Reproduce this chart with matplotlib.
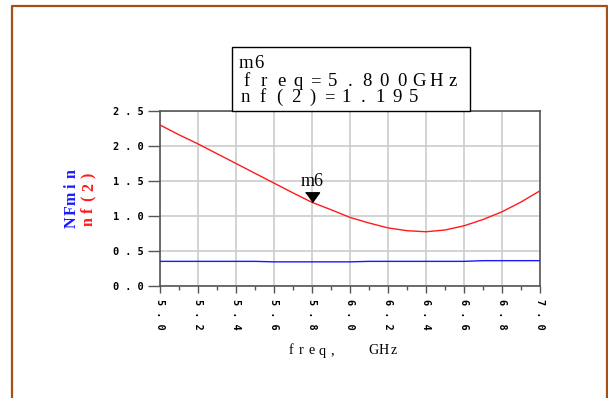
import matplotlib.pyplot as plt
from matplotlib.patches import Rectangle
from matplotlib.lines import Line2D

# data
freq = [5.0, 5.1, 5.2, 5.3, 5.4, 5.5, 5.6, 5.7, 5.8, 5.9, 6.0,
        6.1, 6.2, 6.3, 6.4, 6.5, 6.6, 6.7, 6.8, 6.9, 7.0]
nf2 = [2.30, 2.16, 2.03, 1.89, 1.75, 1.61, 1.47, 1.33, 1.195, 1.09, 0.98,
       0.90, 0.83, 0.79, 0.775, 0.80, 0.86, 0.95, 1.06, 1.20, 1.36]
nfmin = [0.352, 0.352, 0.352, 0.352, 0.352, 0.352, 0.345, 0.345, 0.345, 0.345, 0.345,
         0.352, 0.352, 0.352, 0.352, 0.352, 0.352, 0.362, 0.362, 0.362, 0.362]
marker_name = 'm6'
marker_freq = 5.8
marker_nf = 1.195
xticks = [5.0, 5.2, 5.4, 5.6, 5.8, 6.0, 6.2, 6.4, 6.6, 6.8, 7.0]
yticks = [0.0, 0.5, 1.0, 1.5, 2.0, 2.5]

W, H = 608, 398
fig = plt.figure(figsize=(W / 100, H / 100), dpi=100)


def px(x, y):
    return x / W, 1 - y / H


def spaced_text(x0, y0, s, pitch, vertical=False, **kw):
    # ADS-style letter spaced text, one glyph per slot
    for i, ch in enumerate(s):
        if ch == ' ':
            continue
        if vertical:
            fx, fy = px(x0, y0 - i * pitch)
            fig.text(fx, fy, ch, ha='center', va='center', rotation=90, **kw)
        else:
            fx, fy = px(x0 + i * pitch, y0)
            fig.text(fx, fy, ch, ha='center', va='center', **kw)


ax = fig.add_axes([160 / W, 1 - 286 / H, 380 / W, 175 / H])
ax.plot(freq, nf2, color='#ff1a1a', lw=1.0, zorder=3)
ax.plot(freq, nfmin, color='#1a1aff', lw=1.0, zorder=3)

tri = [(-0.72, 1.0), (0.72, 1.0), (0.0, 0.0)]
ax.plot([marker_freq], [marker_nf], marker=tri, markersize=14, color='black', zorder=4)
ax.annotate(marker_name, (marker_freq, marker_nf), xytext=(0, 15), textcoords='offset points',
            ha='center', va='center', fontsize=13, family='Liberation Serif', zorder=5)

ax.set_xlim(5.0, 7.0)
ax.set_ylim(0, 2.5)
ax.set_xticks(xticks)
ax.set_xticks([v + 0.1 for v in xticks[:-1]], minor=True)
ax.set_yticks(yticks)
ax.set_xticklabels([' '.join(f'{v:.1f}') for v in xticks], rotation=270,
                   family='DejaVu Sans Mono', fontweight='bold', fontsize=7.4, va='top')
ax.set_yticklabels([' '.join(f'{v:.1f}') for v in yticks],
                   family='DejaVu Sans Mono', fontweight='bold', fontsize=7.4)
ax.tick_params(axis='x', which='major', length=5.2, width=1.0, color='#555555', pad=4.5)
ax.tick_params(axis='x', which='minor', length=2.6, width=1.0, color='#555555')
ax.tick_params(axis='y', which='major', length=8.6, width=1.0, color='#555555', pad=3.5)
ax.grid(True, color='#cccccc', lw=1.2)
ax.set_axisbelow(True)
for sp in ax.spines.values():
    sp.set_color('#555555')
    sp.set_linewidth(1.2)

# axis titles
spaced_text(291, 351, 'freq,   GHz', 10.3, family='Liberation Serif', fontsize=10.2)
spaced_text(72, 222, 'NFmin', 12.0, vertical=True, color='#1a1aff',
            family='Liberation Serif', fontsize=11.5, fontweight='bold')
spaced_text(89, 222, 'nf(2)', 11.7, vertical=True, color='#ff1a1a',
            family='Liberation Serif', fontsize=11.5, fontweight='bold')

# marker readout box
bx0, by0 = px(232, 111)
bx1, by1 = px(470, 47)
fig.add_artist(Rectangle((bx0, by0), bx1 - bx0, by1 - by0, transform=fig.transFigure,
                         facecolor='white', edgecolor='black', lw=1.0, zorder=5))
box_kw = dict(family='Liberation Serif', fontsize=13.5, zorder=6)
spaced_text(246, 64, marker_name, 12.5, **box_kw)
spaced_text(246.7, 81.5, f'freq={marker_freq:.3f}GHz', 17.2, **box_kw)
spaced_text(245.7, 97.5, f'nf(2)={marker_nf:.3f}', 16.8, **box_kw)

# brown page frame (open at the bottom)
frame = '#a5501a'
xl, yt = px(12, 5.5)
xr, yb = px(606.5, 400)
fig.add_artist(Line2D([xl, xl, xr, xr], [yb, yt, yt, yb], transform=fig.transFigure,
                      color=frame, lw=1.6))

fig.savefig('out.png', dpi=100)
